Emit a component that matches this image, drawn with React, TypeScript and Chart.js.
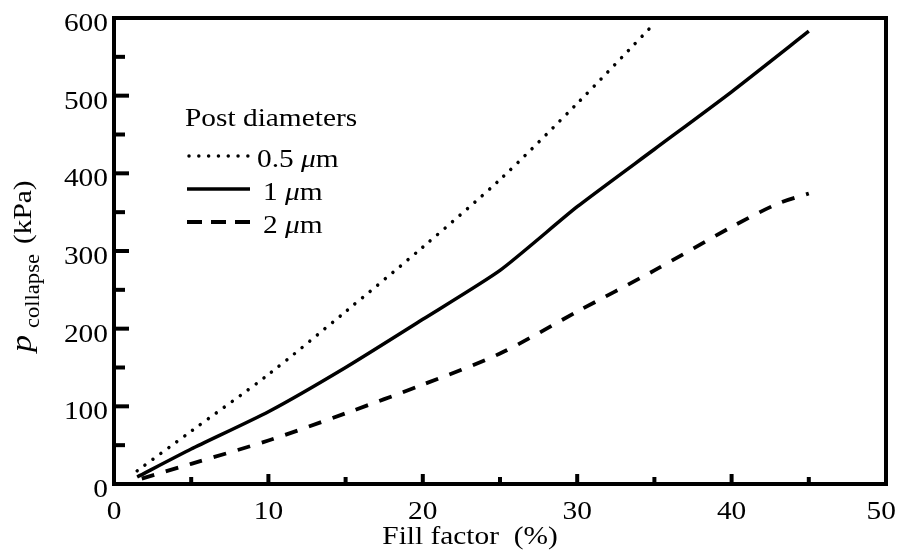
import React, { useEffect, useRef } from "react";
import { Chart, registerables } from "chart.js";

Chart.register(...registerables);

// ---- data ----
const xDotted = [1.5, 5, 10, 15, 20, 25, 30, 35];
const yDotted = [17, 68, 141, 222, 305, 392, 490, 593];

const xSolid = [1.5, 5, 10, 15, 20, 25, 30, 35, 40, 45];
const ySolid = [9, 45, 93, 150, 212, 275, 357, 431, 505, 583];

const xDashed = [1.8, 5, 10, 15, 20, 25, 30, 35, 40, 43, 45];
const yDashed = [7, 26, 56, 91, 128, 168, 222, 275, 331, 361, 374];

const seriesNames = ["0.5", "1", "2"];
const legendTitle = "Post diameters";

const xMajorTicks = [0, 10, 20, 30, 40, 50];
const xMinorTicks = [5, 15, 25, 35, 45];
const yMajorTicks = [0, 100, 200, 300, 400, 500, 600];
const yMinorTicks = [50, 150, 250, 350, 450, 550];

const xTitle = "Fill factor  (%)";

const FAMILY = "'Liberation Serif', 'Times New Roman', serif";
const SX = 1.13;

type Seg = { text: string; font: string; dy?: number; gap?: number };

function measureRich(ctx: CanvasRenderingContext2D, segs: Seg[]) {
  let total = 0;
  for (const s of segs) {
    ctx.font = s.font;
    total += (s.gap || 0) + ctx.measureText(s.text).width * SX;
  }
  return total;
}

function drawRich(ctx: CanvasRenderingContext2D, segs: Seg[], x: number, y: number, align: "left" | "center" | "right" = "left", maxRight = Infinity) {
  const total = measureRich(ctx, segs);
  let cx = x;
  if (align === "center") cx = x - total / 2;
  if (align === "right") cx = x - total;
  if (cx + total > maxRight) cx = maxRight - total;
  for (const s of segs) {
    cx += s.gap || 0;
    ctx.save();
    ctx.font = s.font;
    ctx.textAlign = "left";
    ctx.textBaseline = "alphabetic";
    ctx.fillStyle = "#000";
    ctx.translate(cx, y + (s.dy || 0));
    ctx.scale(SX, 1);
    ctx.fillText(s.text, 0, 0);
    ctx.restore();
    ctx.font = s.font;
    cx += ctx.measureText(s.text).width * SX;
  }
  return total;
}

const decorPlugin = {
  id: "decor",
  afterDraw(chart: any) {
    const ctx: CanvasRenderingContext2D = chart.ctx;
    const { left, right, top, bottom } = chart.chartArea;
    const xs = chart.scales.x;
    const ys = chart.scales.y;
    const N = `26px ${FAMILY}`;
    const I = `italic 26px ${FAMILY}`;

    ctx.save();
    ctx.strokeStyle = "#000";
    ctx.lineCap = "butt";

    // frame
    ctx.lineWidth = 4;
    ctx.strokeRect(left, top, right - left, bottom - top);

    // ticks (inward)
    ctx.lineWidth = 4;
    const seg = (x1: number, y1: number, x2: number, y2: number) => {
      ctx.beginPath();
      ctx.moveTo(x1, y1);
      ctx.lineTo(x2, y2);
      ctx.stroke();
    };
    yMajorTicks.forEach((v) => { const p = ys.getPixelForValue(v); seg(left, p, left + 15, p); });
    yMinorTicks.forEach((v) => { const p = ys.getPixelForValue(v); seg(left, p, left + 11, p); });
    xMajorTicks.forEach((v) => { const p = xs.getPixelForValue(v); seg(p, bottom, p, bottom - 10); });
    xMinorTicks.forEach((v) => { const p = xs.getPixelForValue(v); seg(p, bottom, p, bottom - 7); });

    // tick labels
    yMajorTicks.forEach((v) => {
      const p = ys.getPixelForValue(v);
      drawRich(ctx, [{ text: String(v), font: N }], left - 6, p + 13, "right");
    });
    xMajorTicks.forEach((v) => {
      const p = xs.getPixelForValue(v);
      drawRich(ctx, [{ text: String(v), font: N }], p, bottom + 35, "center", 896);
    });

    // x title
    drawRich(ctx, [{ text: xTitle, font: N }], 470, bottom + 60, "center");

    // y title (rotated)
    ctx.save();
    ctx.translate(31, 352);
    ctx.rotate(-Math.PI / 2);
    drawRich(ctx, [
      { text: "p", font: `italic 30px ${FAMILY}` },
      { text: "collapse", font: `20px ${FAMILY}`, dy: 8, gap: 7 },
      { text: "(kPa)", font: N, gap: 10 },
    ], 0, 0, "left");
    ctx.restore();

    // legend
    drawRich(ctx, [{ text: legendTitle, font: N }], 185, 126);
    ctx.lineWidth = 3.5;
    ctx.lineCap = "round";
    ctx.setLineDash([0.01, 9.8]);
    seg(189, 156, 249, 156);
    ctx.setLineDash([]);
    ctx.lineCap = "butt";
    seg(187, 189, 250, 189);
    ctx.lineWidth = 4;
    ctx.setLineDash([15, 9]);
    seg(187, 222, 250, 222);
    ctx.setLineDash([]);

    const mu = (label: string, x: number, y: number) =>
      drawRich(ctx, [
        { text: label + " ", font: N },
        { text: "\u03bc", font: I },
        { text: "m", font: N },
      ], x, y);
    mu(seriesNames[0], 257, 167);
    mu(seriesNames[1], 263, 200);
    mu(seriesNames[2], 263, 233);

    ctx.restore();
  },
};

const toPts = (xs: number[], ys: number[]) => xs.map((x, i) => ({ x, y: ys[i] }));

export default function App() {
  const ref = useRef<HTMLCanvasElement | null>(null);

  useEffect(() => {
    if (!ref.current) return;
    const chart = new Chart(ref.current, {
      type: "line",
      data: {
        datasets: [
          {
            label: seriesNames[0],
            data: toPts(xDotted, yDotted),
            borderColor: "#000",
            borderWidth: 3.5,
            borderDash: [0.01, 9.8],
            borderCapStyle: "round",
            pointRadius: 0,
            tension: 0.3,
            fill: false,
          },
          {
            label: seriesNames[1],
            data: toPts(xSolid, ySolid),
            borderColor: "#000",
            borderWidth: 3.5,
            pointRadius: 0,
            tension: 0.2,
            fill: false,
          },
          {
            label: seriesNames[2],
            data: toPts(xDashed, yDashed),
            borderColor: "#000",
            borderWidth: 3.8,
            borderDash: [13, 12],
            pointRadius: 0,
            tension: 0.3,
            fill: false,
          },
        ],
      },
      options: {
        animation: false,
        responsive: false,
        maintainAspectRatio: false,
        layout: { padding: { top: 18, right: 12, left: 0, bottom: 0 } },
        plugins: { legend: { display: false }, tooltip: { enabled: false } },
        scales: {
          x: {
            type: "linear",
            min: 0,
            max: 50,
            ticks: { display: false, stepSize: 5 },
            grid: { display: false },
            border: { display: false },
            afterFit: (s: any) => { s.height = 75; },
          },
          y: {
            type: "linear",
            min: 0,
            max: 600,
            ticks: { display: false, stepSize: 50 },
            grid: { display: false },
            border: { display: false },
            afterFit: (s: any) => { s.width = 114; },
          },
        },
      } as any,
      plugins: [decorPlugin],
    });
    return () => chart.destroy();
  }, []);

  return (
    <div style={{ position: "absolute", left: 0, top: 0, width: 898, height: 559, background: "#fff" }}>
      <canvas ref={ref} width={898} height={559} />
    </div>
  );
}
